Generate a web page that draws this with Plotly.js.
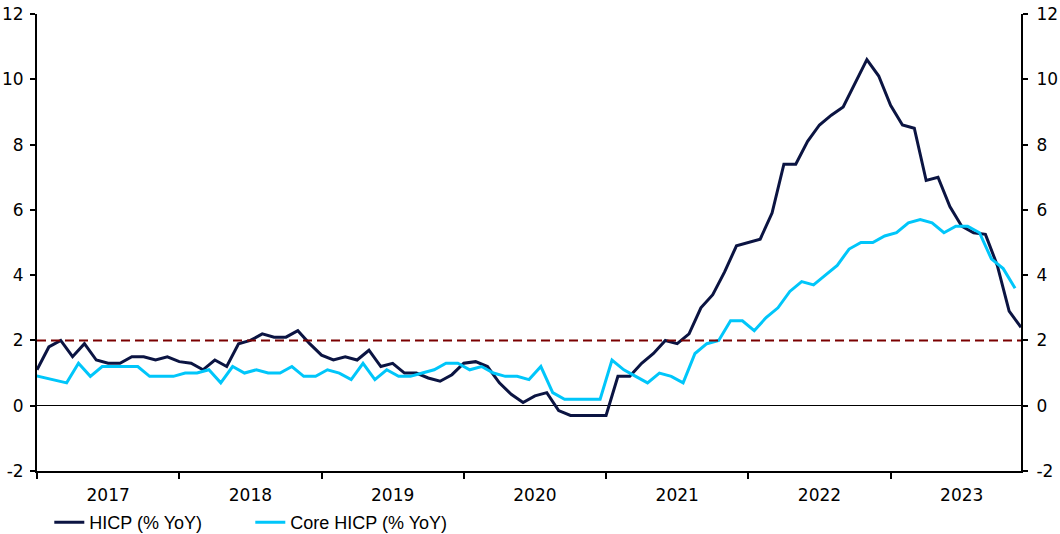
<!DOCTYPE html>
<html>
<head>
<meta charset="utf-8">
<script src="https://cdn.plot.ly/plotly-3.0.1.min.js"></script>
<style>
  html, body { margin: 0; padding: 0; background: #fff; }
  #chart { width: 1060px; height: 534px; }
</style>
</head>
<body>
<div id="chart"></div>
<script>
// Monthly observations, Dec 2016 .. Nov 2023
const startYear = 2016, startMonth = 12, nMonths = 84;
const months = [];
for (let i = 0; i < nMonths; i++) {
  const m0 = startMonth - 1 + i;
  const y = startYear + Math.floor(m0 / 12);
  const m = (m0 % 12) + 1;
  months.push(y + '-' + String(m).padStart(2, '0'));
}

const hicp = [
  1.1,
  1.8, 2.0, 1.5, 1.9, 1.4, 1.3, 1.3, 1.5, 1.5, 1.4, 1.5, 1.35,
  1.3, 1.1, 1.4, 1.2, 1.9, 2.0, 2.2, 2.1, 2.1, 2.3, 1.9, 1.55,
  1.4, 1.5, 1.4, 1.7, 1.2, 1.3, 1.0, 1.0, 0.85, 0.75, 0.95, 1.3,
  1.35, 1.2, 0.7, 0.35, 0.1, 0.3, 0.4, -0.15, -0.3, -0.3, -0.3, -0.3,
  0.9, 0.9, 1.3, 1.6, 2.0, 1.9, 2.2, 3.0, 3.4, 4.1, 4.9, 5.0,
  5.1, 5.9, 7.4, 7.4, 8.1, 8.6, 8.9, 9.15, 9.9, 10.6, 10.1, 9.2,
  8.6, 8.5, 6.9, 7.0, 6.1, 5.5, 5.3, 5.25, 4.3, 2.9, 2.4
];

const core = [
  0.95,
  0.87, 0.8, 0.7, 1.3, 0.9, 1.2, 1.2, 1.2, 1.2, 0.9, 0.9, 0.9,
  1.0, 1.0, 1.1, 0.7, 1.2, 1.0, 1.1, 1.0, 1.0, 1.2, 0.9, 0.9,
  1.1, 1.0, 0.8, 1.3, 0.8, 1.1, 0.9, 0.9, 1.0, 1.1, 1.3, 1.3,
  1.1, 1.2, 1.0, 0.9, 0.9, 0.8, 1.2, 0.4, 0.2, 0.2, 0.2, 0.2,
  1.4, 1.1, 0.9, 0.7, 1.0, 0.9, 0.7, 1.6, 1.9, 2.0, 2.6, 2.6,
  2.3, 2.7, 3.0, 3.5, 3.8, 3.7, 4.0, 4.3, 4.8, 5.0, 5.0, 5.2,
  5.3, 5.6, 5.7, 5.6, 5.3, 5.5, 5.5, 5.3, 4.5, 4.2, 3.6
];

const seriesNames = ['HICP (% YoY)', 'Core HICP (% YoY)'];
const yearLabels = ['2017', '2018', '2019', '2020', '2021', '2022', '2023'];
const target = 2;
const yTicks = [-2, 0, 2, 4, 6, 8, 10, 12];
const yTickLabels = ['-2', '0', '2', '4', '6', '8', '10', '12'];

// month index positions on the axis
const idx = months.map((_, i) => i);
const idxCore = months.map((_, i) => i - 0.5);   // core series is drawn half a month earlier
const yearTickPos = yearLabels.map((_, k) => 12 * k);       // year boundaries (Dec)
const yearLabelPos = yearLabels.map((_, k) => 12 * k + 6);  // mid-year labels

const tickFont = { family: 'DejaVu Sans, Verdana, sans-serif', size: 17, color: '#000' };

const traces = [
  {
    x: idx, y: hicp, text: months, name: seriesNames[0],
    type: 'scatter', mode: 'lines',
    line: { color: '#0b1442', width: 3 },
    xaxis: 'x', yaxis: 'y',
    hoverinfo: 'skip'
  },
  {
    x: idxCore, y: core, text: months, name: seriesNames[1],
    type: 'scatter', mode: 'lines',
    line: { color: '#00c6fa', width: 3 },
    xaxis: 'x', yaxis: 'y2',
    hoverinfo: 'skip'
  }
];

const layout = {
  width: 1060, height: 534,
  margin: { l: 37, r: 39, t: 14, b: 63, autoexpand: false },
  paper_bgcolor: '#fff', plot_bgcolor: '#fff',
  showlegend: true,
  legend: {
    orientation: 'h',
    x: 0.0125, xanchor: 'left',
    y: -0.113, yanchor: 'middle',
    font: { family: 'Liberation Sans, Arial, sans-serif', size: 18, color: '#000' },
    entrywidth: 156, entrywidthmode: 'pixels',
    bgcolor: 'rgba(0,0,0,0)'
  },
  xaxis: {
    range: [0, 83],
    tickmode: 'array', tickvals: yearLabelPos, ticktext: yearLabels,
    ticks: '', ticklen: 0,
    tickfont: tickFont,
    ticklabelstandoff: 8,
    minor: { tickmode: 'array', tickvals: yearTickPos, ticks: 'outside', ticklen: 6, tickwidth: 2, tickcolor: '#000', showgrid: false },
    showline: true, linecolor: '#000', linewidth: 2,
    showgrid: false, zeroline: false, fixedrange: true
  },
  yaxis: {
    range: [-2, 12],
    tickmode: 'array', tickvals: yTicks, ticktext: yTickLabels,
    ticks: 'outside', ticklen: 5, tickwidth: 2, tickcolor: '#000',
    tickfont: tickFont,
    ticklabelstandoff: 3,
    showline: true, linecolor: '#000', linewidth: 2,
    showgrid: false,
    zeroline: true, zerolinecolor: '#000', zerolinewidth: 1,
    fixedrange: true
  },
  yaxis2: {
    range: [-2, 12],
    overlaying: 'y', side: 'right', anchor: 'x',
    tickmode: 'array', tickvals: yTicks, ticktext: yTickLabels,
    ticks: 'outside', ticklen: 5, tickwidth: 2, tickcolor: '#000',
    tickfont: tickFont,
    ticklabelstandoff: 5,
    showline: true, linecolor: '#000', linewidth: 2,
    showgrid: false, zeroline: false, fixedrange: true
  },
  shapes: [
    {
      type: 'line', xref: 'paper', yref: 'y',
      x0: 0, x1: 1, y0: target, y1: target,
      line: { color: '#7a0000', width: 2, dash: '9px,5px' },
      layer: 'above'
    }
  ]
};

Plotly.newPlot('chart', traces, layout, { displayModeBar: false, staticPlot: true });
</script>
</body>
</html>
